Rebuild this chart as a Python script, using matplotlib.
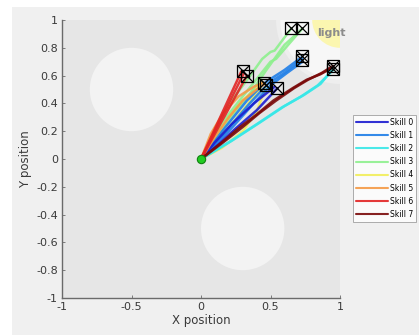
import numpy as np
import matplotlib
matplotlib.use("Agg")
import matplotlib.pyplot as plt
from matplotlib.patches import Circle, Rectangle

# skill names and colours (jet-like)
skill_names = ["Skill 0", "Skill 1", "Skill 2", "Skill 3",
               "Skill 4", "Skill 5", "Skill 6", "Skill 7"]
skill_colors = ["#1c1cd0", "#1e7ee8", "#38e8e8", "#8ef08e",
                "#f2ee5a", "#f59a45", "#e22424", "#7a0a0a"]

# trajectories per skill (x, y waypoints)
skill0_paths = [
    [(0, 0), (0.12, 0.1), (0.25, 0.22), (0.4, 0.35), (0.55, 0.51)],
    [(0, 0), (0.1, 0.12), (0.22, 0.25), (0.38, 0.4), (0.53, 0.52)],
]
skill1_paths = [
    [(0, 0), (0.18, 0.2), (0.35, 0.4), (0.48, 0.54), (0.6, 0.62), (0.73, 0.72)],
    [(0, 0), (0.2, 0.2), (0.38, 0.4), (0.5, 0.53), (0.62, 0.62), (0.73, 0.7)],
    [(0, 0), (0.16, 0.21), (0.33, 0.42), (0.46, 0.55), (0.6, 0.64), (0.72, 0.73)],
]
skill2_paths = [
    [(0, 0), (0.2, 0.12), (0.4, 0.25), (0.58, 0.37), (0.72, 0.45), (0.84, 0.53), (0.95, 0.64)],
    [(0, 0), (0.22, 0.13), (0.42, 0.26), (0.6, 0.38), (0.74, 0.46), (0.86, 0.54), (0.95, 0.65)],
]
skill3_paths = [
    [(0, 0), (0.1, 0.22), (0.22, 0.42), (0.34, 0.58), (0.44, 0.72), (0.5, 0.77), (0.53, 0.78), (0.65, 0.94)],
    [(0, 0), (0.15, 0.26), (0.3, 0.45), (0.42, 0.6), (0.5, 0.7), (0.54, 0.72), (0.73, 0.94)],
    [(0, 0), (0.2, 0.28), (0.36, 0.48), (0.47, 0.64), (0.6, 0.82), (0.72, 0.93)],
]
skill4_paths = [
    [(0, 0), (0.15, 0.08), (0.3, 0.2), (0.4, 0.34), (0.47, 0.53)],
    [(0, 0), (0.1, 0.12), (0.22, 0.25), (0.34, 0.4), (0.45, 0.54)],
    [(0, 0), (0.08, 0.14), (0.18, 0.28), (0.3, 0.42), (0.44, 0.55)],
]
skill5_paths = [
    [(0, 0), (0.07, 0.18), (0.16, 0.33), (0.27, 0.45), (0.38, 0.52), (0.45, 0.55)],
    [(0, 0), (0.1, 0.16), (0.2, 0.3), (0.3, 0.42), (0.4, 0.5), (0.46, 0.54)],
]
skill6_paths = [
    [(0, 0), (0.29, 0.63)],
    [(0, 0), (0.31, 0.62)],
    [(0, 0), (0.33, 0.6)],
]
skill7_paths = [
    [(0, 0), (0.15, 0.12), (0.28, 0.23), (0.4, 0.32), (0.52, 0.42), (0.66, 0.51),
     (0.76, 0.57), (0.86, 0.61), (0.95, 0.66)],
    [(0, 0), (0.16, 0.12), (0.3, 0.23), (0.42, 0.33), (0.54, 0.42), (0.67, 0.51),
     (0.77, 0.57), (0.87, 0.62), (0.95, 0.67)],
]
all_paths = [skill0_paths, skill1_paths, skill2_paths, skill3_paths,
             skill4_paths, skill5_paths, skill6_paths, skill7_paths]

# goal markers
goal_x = [0.3, 0.33, 0.65, 0.73, 0.73, 0.73, 0.95, 0.95, 0.45, 0.47, 0.55]
goal_y = [0.63, 0.6, 0.94, 0.94, 0.74, 0.71, 0.67, 0.65, 0.55, 0.53, 0.51]

# obstacles and light
obstacle_x = [-0.5, 0.3]
obstacle_y = [0.5, -0.5]
obstacle_r = [0.3, 0.3]
light_x, light_y = 1.0, 1.0

x_ticks = [-1, -0.5, 0, 0.5, 1]
x_labels = ["-1", "-0.5", "0", "0.5", "1"]
y_ticks = [-1, -0.8, -0.6, -0.4, -0.2, 0, 0.2, 0.4, 0.6, 0.8, 1]
y_labels = ["-1", "-0.8", "-0.6", "-0.4", "-0.2", "0", "0.2", "0.4", "0.6", "0.8", "1"]

fig = plt.figure(figsize=(4.19, 3.35), dpi=100, facecolor="white")
# grey figure area (white border of the screenshot top/left)
fig.patches.append(Rectangle((12 / 419, 0), 1, (335 - 7) / 335, transform=fig.transFigure,
                             facecolor="#f0f0f0", edgecolor="none", zorder=-10))

ax = fig.add_axes([62 / 419, 37 / 335, 278 / 419, 278 / 335])
ax.set_facecolor("#e6e6e6")
ax.set_xlim(-1, 1)
ax.set_ylim(-1, 1)

# light region (soft edge)
ax.add_patch(Circle((light_x, light_y), 0.46, facecolor="#eeeeee", edgecolor="none", zorder=0))
ax.add_patch(Circle((light_x, light_y), 0.43, facecolor="#f7f7f7", edgecolor="none", zorder=0))
ax.add_patch(Circle((light_x, light_y), 0.2, facecolor="#fbf6b0", edgecolor="none", zorder=0))
ax.text(0.835, 0.91, "light", fontsize=8, fontweight="bold", color="#8c8c8c",
        ha="left", va="center", zorder=1)

for cx, cy, r in zip(obstacle_x, obstacle_y, obstacle_r):
    ax.add_patch(Circle((cx, cy), r, facecolor="#f3f3f3", edgecolor="none", zorder=0))

draw_order = [4, 3, 1, 0, 5, 2, 6, 7]
handles = [None] * len(skill_names)
for k in draw_order:
    for path in all_paths[k]:
        xs = [p[0] for p in path]
        ys = [p[1] for p in path]
        h, = ax.plot(xs, ys, color=skill_colors[k], lw=1.8, alpha=0.9, zorder=2,
                     solid_capstyle="round")
    handles[k] = h

ax.plot(goal_x, goal_y, "s", ms=8.5, mfc="none", mec="black", mew=0.9, zorder=4)
ax.plot(goal_x, goal_y, "x", ms=8, color="black", mew=0.9, zorder=4)
ax.plot([0], [0], "o", ms=6, mfc="#22cc22", mec="#108010", mew=0.8, zorder=5)

for side in ["top", "right"]:
    ax.spines[side].set_visible(False)
for side in ["left", "bottom"]:
    ax.spines[side].set_color("#6a6a6a")
    ax.spines[side].set_linewidth(1.0)
ax.set_xticks(x_ticks)
ax.set_xticklabels(x_labels)
ax.set_yticks(y_ticks)
ax.set_yticklabels(y_labels)
ax.tick_params(direction="in", length=2, width=0.6, color="#6a6a6a",
               labelsize=8, labelcolor="#3a3a3a", pad=3)
ax.set_xlabel("X position", fontsize=8.5, color="#3a3a3a", labelpad=1)
ax.set_ylabel("Y position", fontsize=8.5, color="#3a3a3a", labelpad=3)

leg = fig.legend(handles, skill_names, loc="upper left",
                 bbox_to_anchor=(353 / 419, 1 - 115 / 335), fontsize=5.5,
                 handlelength=4.2, handletextpad=0.3, labelspacing=0.55,
                 borderpad=0.35, borderaxespad=0, frameon=True, fancybox=False)
leg.get_frame().set_edgecolor("#8a8a8a")
leg.get_frame().set_linewidth(0.6)
for line in leg.get_lines():
    line.set_linewidth(1.5)

fig.savefig("out.png", dpi=100, facecolor=fig.get_facecolor())
